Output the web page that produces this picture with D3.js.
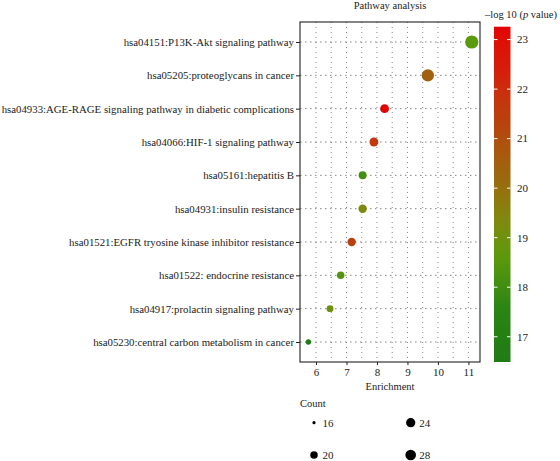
<!DOCTYPE html>
<html><head><meta charset="utf-8">
<script src="https://cdn.jsdelivr.net/npm/d3@7"></script>
<style>
body{margin:0;background:#fff;}
svg{display:block;font-family:"Liberation Serif","DejaVu Serif",serif;}
</style></head>
<body><svg id="c" width="560" height="461"></svg>
<script>
const pathways = [
  "hsa04151:P13K-Akt signaling pathway",
  "hsa05205:proteoglycans in cancer",
  "hsa04933:AGE-RAGE signaling pathway in diabetic complications",
  "hsa04066:HIF-1 signaling pathway",
  "hsa05161:hepatitis B",
  "hsa04931:insulin resistance",
  "hsa01521:EGFR tryosine kinase inhibitor resistance",
  "hsa01522: endocrine resistance",
  "hsa04917:prolactin signaling pathway",
  "hsa05230:central carbon metabolism in cancer"
];
const enrichment = [11.11, 9.67, 8.25, 7.90, 7.53, 7.53, 7.17, 6.81, 6.46, 5.75];
const counts     = [38, 34, 23, 23, 21, 22, 22, 20, 19, 17];
const logP       = [18.6, 20.4, 23.26, 21.7, 18.1, 19.3, 21.3, 18.4, 19.0, 16.49];
const xTicks = [6, 7, 8, 9, 10, 11];
const colorTicks = [17, 18, 19, 20, 21, 22, 23];
const countBreaks = [16, 20, 24, 28];
const colorStops = [16.49, 17.6, 18.6, 19.3, 20.2, 21.3, 22.3, 23.26];
const colorValues = ["#1f7b14", "#2a8514", "#5a9a0c", "#7d8a0e", "#9a680e", "#b8420e", "#d41e0c", "#e20404"];

const svg = d3.select("#c");
const L = 300, R = 480, T = 22, B = 362;

const x = d3.scaleLinear().domain([5.475, 11.38]).range([L, R]);
const y = d3.scalePoint().domain(pathways).range([T, B]).padding(0.6);
const cDomain = [colorStops[0], colorStops[colorStops.length - 1]];
const color = d3.scaleLinear().domain(colorStops).range(colorValues).interpolate(d3.interpolateLab);
const rad = c => 1.6 + 1.07 * Math.sqrt(Math.max(0, c - 16));

// grid
const g = svg.append("g");
const minor = d3.range(6, 11.01, 0.5);
g.selectAll("line.v").data(minor).join("line")
  .attr("x1", d => x(d)).attr("x2", d => x(d)).attr("y1", T).attr("y2", B)
  .attr("stroke", "#666").attr("stroke-width", 0.8).attr("stroke-dasharray", "1,4");
g.selectAll("line.h").data(pathways).join("line")
  .attr("x1", L).attr("x2", R).attr("y1", d => y(d)).attr("y2", d => y(d))
  .attr("stroke", "#666").attr("stroke-width", 0.8).attr("stroke-dasharray", "1.5,3.5");

// points
const data = pathways.map((p, i) => ({p, e: enrichment[i], c: counts[i], v: logP[i]}));
svg.append("g").selectAll("circle").data(data).join("circle")
  .attr("cx", d => x(d.e)).attr("cy", d => y(d.p)).attr("r", d => rad(d.c))
  .attr("fill", d => color(d.v));

// border
svg.append("rect").attr("x", L).attr("y", T).attr("width", R - L).attr("height", B - T)
  .attr("fill", "none").attr("stroke", "#222").attr("stroke-width", 1.1);

// axes
const ax = svg.append("g").attr("transform", `translate(0,${B})`)
  .call(d3.axisBottom(x).tickValues(xTicks).tickSize(3).tickPadding(3).tickFormat(d3.format("d")));
ax.attr("font-family", null);
ax.select(".domain").remove();
ax.selectAll("line").attr("stroke", "#222");
ax.selectAll("text").attr("font-size", 11).attr("fill", "#222");

const ay = svg.append("g").attr("transform", `translate(${L},0)`)
  .call(d3.axisLeft(y).tickSize(4).tickPadding(2));
ay.attr("font-family", null);
ay.select(".domain").remove();
ay.selectAll("line").attr("stroke", "#222");
ay.selectAll("text").attr("font-size", 10.8).attr("fill", "#222");

svg.append("text").attr("x", (L + R) / 2).attr("y", 390).attr("text-anchor", "middle")
  .attr("font-size", 10.5).attr("fill", "#222").text("Enrichment");
svg.append("text").attr("x", 390).attr("y", 9).attr("text-anchor", "middle")
  .attr("font-size", 10.5).attr("fill", "#222").text("Pathway analysis");

// colorbar
const cbX = 494, cbW = 16.5;
const cy = d3.scaleLinear().domain(cDomain).range([362, 26.7]);
const defs = svg.append("defs");
const grad = defs.append("linearGradient").attr("id", "cg").attr("x1", 0).attr("x2", 0).attr("y1", 1).attr("y2", 0);
d3.range(0, 1.001, 0.025).forEach(t => {
  grad.append("stop").attr("offset", t).attr("stop-color", color(cDomain[0] + t * (cDomain[1] - cDomain[0])));
});
svg.append("rect").attr("x", cbX).attr("y", cy(cDomain[1])).attr("width", cbW)
  .attr("height", cy(cDomain[0]) - cy(cDomain[1])).attr("fill", "url(#cg)");
const ct = svg.append("g");
colorTicks.forEach(v => {
  ct.append("line").attr("x1", cbX).attr("x2", cbX + 3.5).attr("y1", cy(v)).attr("y2", cy(v)).attr("stroke", "#fff").attr("stroke-width", 1);
  ct.append("line").attr("x1", cbX + cbW - 3.5).attr("x2", cbX + cbW).attr("y1", cy(v)).attr("y2", cy(v)).attr("stroke", "#fff").attr("stroke-width", 1);
  ct.append("text").attr("x", 517).attr("y", cy(v)).attr("dy", "0.35em").attr("font-size", 11).attr("fill", "#222").text(v);
});
const lt = svg.append("text").attr("x", 485).attr("y", 18).attr("font-size", 10.5).attr("fill", "#222");
lt.append("tspan").text("\u2013log 10 (");
lt.append("tspan").attr("font-style", "italic").text("p");
lt.append("tspan").text(" value)");

// size legend
svg.append("text").attr("x", 300).attr("y", 407).attr("font-size", 10.5).attr("fill", "#222").text("Count");
const pos = [[314, 422.7], [314, 455], [410.7, 422.7], [410.7, 455]];
countBreaks.forEach((c, i) => {
  svg.append("circle").attr("cx", pos[i][0]).attr("cy", pos[i][1]).attr("r", rad(c)).attr("fill", "#000");
  svg.append("text").attr("x", pos[i][0] + 8.5).attr("y", pos[i][1]).attr("dy", "0.35em")
    .attr("font-size", 11).attr("fill", "#222").text(c);
});
</script></body></html>
